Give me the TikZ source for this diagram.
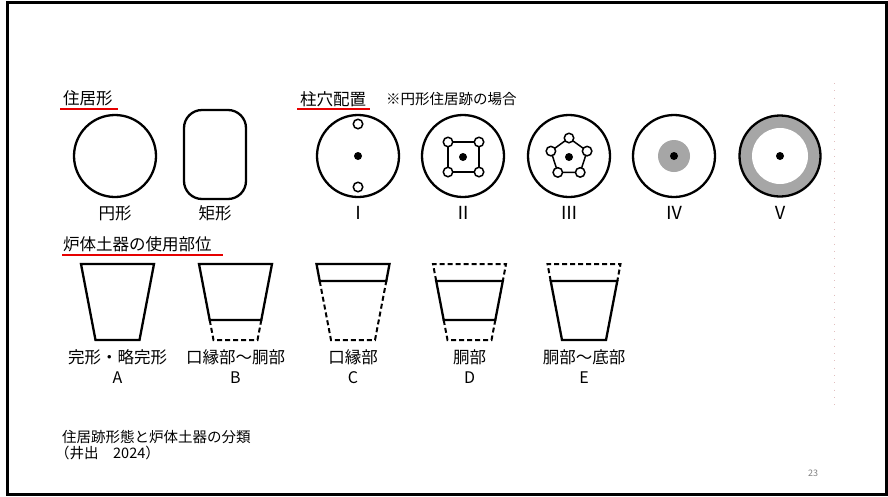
\documentclass[tikz,border=0pt]{standalone}
\usepackage{fontspec}
\newfontfamily\jp{Noto Sans CJK JP}
\definecolor{fillgray}{RGB}{166,166,166}
\definecolor{ulred}{RGB}{230,0,0}
\definecolor{dotline}{RGB}{225,190,190}
\begin{document}
\begin{tikzpicture}[x=1pt,y=-1pt,
  lw/.style={line width=2.3pt},
  dsh/.style={line width=2pt,dash pattern=on 5pt off 3pt},
  hole/.style={circle,draw,line width=1.5pt,fill=white,minimum size=9.5pt,inner sep=0pt},
  cdot/.style={circle,fill=black,minimum size=8pt,inner sep=0pt},
  ttl/.style={font=\jp\fontsize{16.5}{16}\selectfont,inner sep=0pt},
  note/.style={font=\jp\fontsize{14.5}{14}\selectfont,inner sep=0pt},
  lbl/.style={font=\jp\fontsize{16.5}{16}\selectfont,inner sep=0pt},
  rom/.style={font=\jp\fontsize{18}{18}\selectfont,inner sep=0pt},
  ltr/.style={font=\jp\fontsize{16}{16}\selectfont,inner sep=0pt},
  ul/.style={ulred,line width=2.4pt}
]
\useasboundingbox (0,0) rectangle (888,496);
\fill[white] (0,0) rectangle (888,496);
\draw[line width=3pt] (7.5,2) rectangle (886,494.5);
\draw[dotline,line width=0.8pt,dash pattern=on 0.8pt off 6.5pt] (834,83) -- (834,410);

% ---- titles
\node[ttl,anchor=west] (t1) at (63,98) {住居形};
\draw[ul] (60,109) -- (118,109);
\node[ttl,anchor=west] (t2) at (300,99) {柱穴配置};
\draw[ul] (297,109) -- (370,109);
\node[note,anchor=west] (t2n) at (386,99) {※円形住居跡の場合};
\node[ttl,anchor=west] (t3) at (63,244) {炉体土器の使用部位};
\draw[ul] (62,255) -- (223,255);

% ---- dwelling shapes
\draw[lw] (115,156) circle (41);
\node[lbl] (l1) at (115,213) {円形};
\draw[lw,rounded corners=18pt] (184,110) rectangle (246,199);
\node[lbl] (l2) at (215,213) {矩形};

% ---- pillar layouts
% I
\draw[lw] (358,156) circle (41);
\node[cdot] (c1) at (358,156) {};
\node[hole] (h1a) at (358,124) {};
\node[hole] (h1b) at (358,187) {};
\node[rom] (r1) at (358,213) {Ⅰ};
% II
\draw[lw] (463,156) circle (41);
\coordinate (q1) at (448,142);
\coordinate (q2) at (479,142);
\coordinate (q3) at (479,172);
\coordinate (q4) at (448,172);
\draw[line width=1.5pt] (q1) -- (q2) -- (q3) -- (q4) -- cycle;
\node[hole] (h2a) at (q1) {};
\node[hole] (h2b) at (q2) {};
\node[hole] (h2c) at (q3) {};
\node[hole] (h2d) at (q4) {};
\node[cdot] (c2) at (463,157) {};
\node[rom] (r2) at (463,213) {Ⅱ};
% III
\draw[lw] (569,156) circle (41);
\coordinate (p1) at (569,138);
\coordinate (p2) at (587.1,151.1);
\coordinate (p3) at (580.2,172.4);
\coordinate (p4) at (557.8,172.4);
\coordinate (p5) at (550.9,151.1);
\draw[line width=1.5pt] (p1) -- (p2) -- (p3) -- (p4) -- (p5) -- cycle;
\node[hole] (h3a) at (p1) {};
\node[hole] (h3b) at (p2) {};
\node[hole] (h3c) at (p3) {};
\node[hole] (h3d) at (p4) {};
\node[hole] (h3e) at (p5) {};
\node[cdot] (c3) at (569,157) {};
\node[rom] (r3) at (569,213) {Ⅲ};
% IV
\draw[lw] (674,156) circle (41);
\fill[fillgray] (674,156) circle (16);
\node[cdot] (c4) at (674,156) {};
\node[rom] (r4) at (674,213) {Ⅳ};
% V
\fill[fillgray] (780,156) circle (40.5);
\fill[white] (780,156) circle (28);
\draw[lw] (780,156) circle (40.5);
\node[cdot] (c5) at (780,156) {};
\node[rom] (r5) at (780,213) {Ⅴ};

% ---- vessels
% A
\draw[lw,line join=miter] (81,264) -- (154,264) -- (139.5,340) -- (95.5,340) -- cycle;
% B
\draw[lw] (209.7,320) -- (199,264) -- (272,264) -- (261.3,320) -- cycle;
\draw[dsh] (209.7,320) -- (213.5,340) -- (257.5,340) -- (261.3,320);
% C
\draw[lw] (319.7,281) -- (316.5,264) -- (389.5,264) -- (386.3,281) -- cycle;
\draw[dsh] (319.7,281) -- (331,340) -- (375,340) -- (386.3,281);
% D
\draw[dsh] (436.2,281) -- (433,264) -- (506,264) -- (502.8,281);
\draw[lw] (436.2,281) -- (502.8,281) -- (495.3,320) -- (443.7,320) -- cycle;
\draw[dsh] (443.7,320) -- (447.5,340) -- (491.5,340) -- (495.3,320);
% E
\draw[dsh] (550.7,281) -- (547.5,264) -- (620.5,264) -- (617.3,281);
\draw[lw] (550.7,281) -- (617.3,281) -- (606,340) -- (562,340) -- cycle;

% vessel labels
\node[lbl] (va) at (117.5,357) {完形・略完形};
\node[ltr] (la) at (117.5,378) {A};
\node[lbl] (vb) at (235.5,357) {口縁部～胴部};
\node[ltr] (lb) at (235.5,378) {B};
\node[lbl] (vc) at (353,357) {口縁部};
\node[ltr] (lc) at (353,378) {C};
\node[lbl] (vd) at (469.5,357) {胴部};
\node[ltr] (ld) at (469.5,378) {D};
\node[lbl] (ve) at (584,357) {胴部～底部};
\node[ltr] (le) at (584,378) {E};

% ---- footnote
\node[note,anchor=west] (f1) at (62,437) {住居跡形態と炉体土器の分類};
\node[note,anchor=west] (f2) at (55,453) {（井出　2024）};
\node[font=\jp\fontsize{9}{9}\selectfont,text=gray,inner sep=0pt] (pg) at (813,473) {23};
\end{tikzpicture}
\end{document}
